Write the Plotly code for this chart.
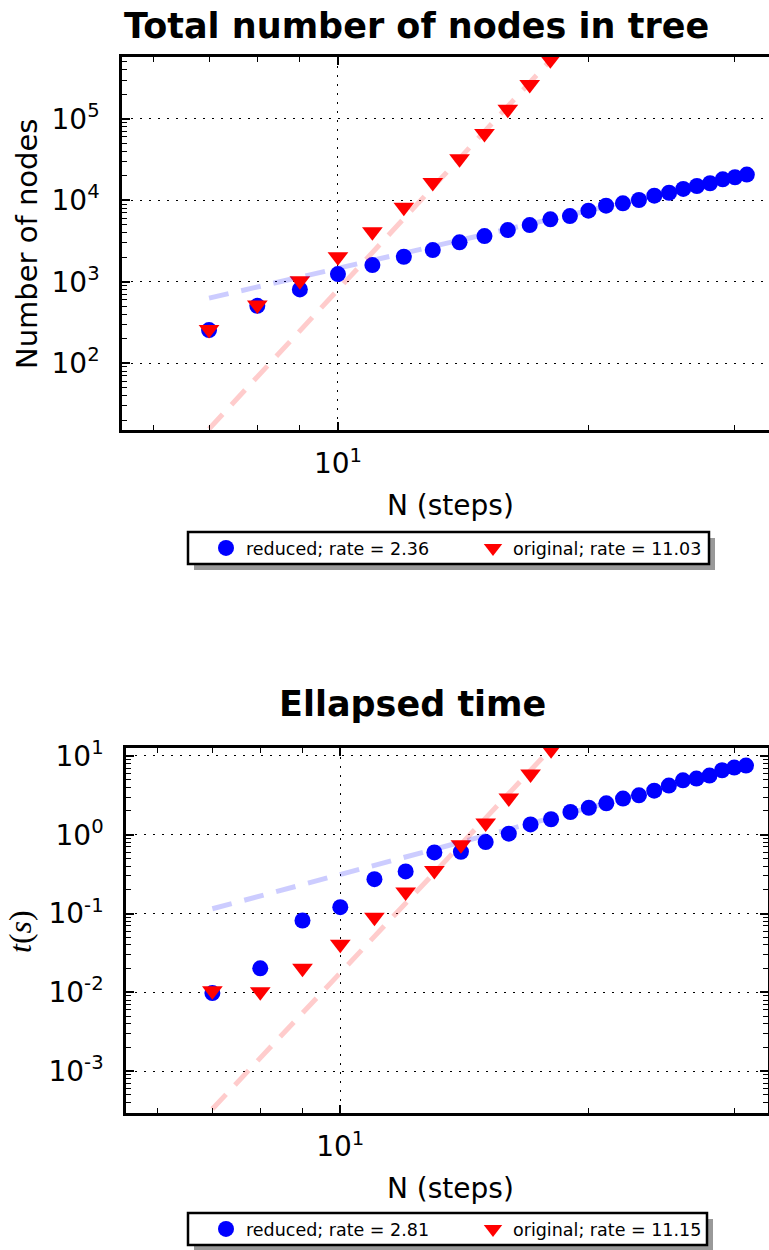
import plotly.graph_objects as go

# ---------------- data ----------------
N_reduced = [7, 8, 9, 10, 11, 12, 13, 14, 15, 16, 17, 18, 19, 20, 21, 22, 23, 24, 25, 26, 27, 28, 29, 30, 31]
N_original = [7, 8, 9, 10, 11, 12, 13, 14, 15, 16, 17, 18]

nodes_reduced = [255, 507, 806, 1243, 1603, 2028, 2450, 3050, 3640, 4310, 4970, 5840, 6410,
                 7460, 8600, 9180, 10100, 11400, 12400, 13800, 15000, 16200, 18100, 19200, 20700]
nodes_original = [260, 520, 1030, 2030, 4120, 8200, 16500, 32500, 66000, 131000, 264000, 531000]

time_reduced = [0.0098, 0.0202, 0.0817, 0.1205, 0.273, 0.342, 0.596, 0.608, 0.807, 1.03, 1.35,
                1.57, 1.94, 2.20, 2.50, 2.87, 3.16, 3.62, 4.20, 4.90, 5.15, 5.62, 6.57, 7.10, 7.53]
time_original = [0.0105, 0.0102, 0.0202, 0.0408, 0.0895, 0.187, 0.352, 0.746, 1.41, 2.93, 5.90, 12.0]

# fitted power-law lines (end points)
fit_nodes_reduced_N = [7, 31]
fit_nodes_reduced_y = [630, 21100]
fit_nodes_original_N = [7, 19]
fit_nodes_original_y = [15.6, 951000]
fit_time_reduced_N = [7, 31]
fit_time_reduced_y = [0.115, 7.5]
fit_time_original_N = [7, 19]
fit_time_original_y = [0.000332, 22.7]

rate_nodes_reduced = "2.36"
rate_nodes_original = "11.03"
rate_time_reduced = "2.81"
rate_time_original = "11.15"

x_tick_vals = [10]
x_tick_text = ["10<sup>1</sup>"]
x_minor_vals = [6, 7, 8, 9, 20, 30]
nodes_tick_vals = [1e2, 1e3, 1e4, 1e5]
nodes_tick_text = ["10<sup>2</sup>", "10<sup>3</sup>", "10<sup>4</sup>", "10<sup>5</sup>"]
time_tick_vals = [1e-3, 1e-2, 1e-1, 1e0, 1e1]
time_tick_text = ["10<sup>-3</sup>", "10<sup>-2</sup>", "10<sup>-1</sup>", "10<sup>0</sup>", "10<sup>1</sup>"]

# ---------------- figure ----------------
W, H = 769, 1250
FONT = "DejaVu Sans"
BLUE = "#0000ff"
RED = "#ff0000"
BLUE_FIT = "rgba(0,0,255,0.2)"
RED_FIT = "rgba(255,0,0,0.2)"


def px(x):
    return x / W


def py(y):
    return 1 - y / H


fig = go.Figure()


def add_panel(xa, ya, legend, Nr, yr, No, yo, fr, fo, rr, ro):
    fig.add_trace(go.Scatter(x=Nr, y=yr, mode="markers", xaxis=xa, yaxis=ya, legend=legend,
                             name=f"reduced; rate = {rr}",
                             marker=dict(symbol="circle", size=16, color=BLUE)))
    fig.add_trace(go.Scatter(x=No, y=yo, mode="markers", xaxis=xa, yaxis=ya, legend=legend,
                             name=f"original; rate = {ro}",
                             marker=dict(symbol="triangle-down", size=18, color=RED)))
    fig.add_trace(go.Scatter(x=fr[0], y=fr[1], mode="lines", xaxis=xa, yaxis=ya, showlegend=False,
                             line=dict(color=BLUE_FIT, width=5, dash="20px,13px"), hoverinfo="skip"))
    fig.add_trace(go.Scatter(x=fo[0], y=fo[1], mode="lines", xaxis=xa, yaxis=ya, showlegend=False,
                             line=dict(color=RED_FIT, width=5, dash="20px,13px"), hoverinfo="skip"))


add_panel("x", "y", "legend", N_reduced, nodes_reduced, N_original, nodes_original,
          (fit_nodes_reduced_N, fit_nodes_reduced_y), (fit_nodes_original_N, fit_nodes_original_y),
          rate_nodes_reduced, rate_nodes_original)
add_panel("x2", "y2", "legend2", N_reduced, time_reduced, N_original, time_original,
          (fit_time_reduced_N, fit_time_reduced_y), (fit_time_original_N, fit_time_original_y),
          rate_time_reduced, rate_time_original)

tickfont = dict(family=FONT, size=28, color="black")
common_axis = dict(
    type="log", showline=True, linecolor="black", linewidth=2.5, automargin=False,
    ticks="inside", ticklen=8, tickwidth=1.5, tickcolor="black",
    showgrid=True, gridcolor="black", gridwidth=1.3, griddash="2px,7px",
    zeroline=False, tickfont=tickfont,
)

xrange = [0.7405, 1.518]

legend_common = dict(orientation="h", xanchor="left", yanchor="middle",
                     bgcolor="rgba(0,0,0,0)", borderwidth=0,
                     font=dict(family=FONT, size=17.5, color="black"), itemclick=False,
                     entrywidth=222, entrywidthmode="pixels", itemwidth=30)

fig.update_layout(
    template="none",
    width=W, height=H,
    margin=dict(l=0, r=0, t=0, b=0, pad=0, autoexpand=False),
    paper_bgcolor="white", plot_bgcolor="white",
    font=dict(family=FONT, color="black"),
    xaxis=dict(common_axis, domain=[px(122), 1.0], range=xrange, anchor="y",
               tickmode="array", tickvals=x_tick_vals, ticktext=x_tick_text, mirror="allticks",
               ticklabelstandoff=7,
               minor=dict(tickmode="array", tickvals=x_minor_vals, ticks="inside", ticklen=5,
                          tickwidth=1.2, tickcolor="black", showgrid=False)),
    yaxis=dict(common_axis, domain=[py(430), py(57)], range=[1.18, 5.76], anchor="x",
               tickmode="array", tickvals=nodes_tick_vals, ticktext=nodes_tick_text, mirror=False,
               ticklabelstandoff=14,
               minor=dict(tickmode="array",
                          tickvals=[m * 10 ** e for e in range(1, 6) for m in range(2, 10)],
                          ticks="inside", ticklen=5, tickwidth=1.2, tickcolor="black", showgrid=False)),
    xaxis2=dict(common_axis, domain=[px(126), px(768)], range=xrange, anchor="y2",
                tickmode="array", tickvals=x_tick_vals, ticktext=x_tick_text, mirror="allticks",
                ticklabelstandoff=7,
                minor=dict(tickmode="array", tickvals=x_minor_vals, ticks="inside", ticklen=5,
                           tickwidth=1.2, tickcolor="black", showgrid=False)),
    yaxis2=dict(common_axis, domain=[py(1113), py(748)], range=[-3.53, 1.10], anchor="x2",
                tickmode="array", tickvals=time_tick_vals, ticktext=time_tick_text, mirror="allticks",
                ticklabelstandoff=14,
                minor=dict(tickmode="array",
                           tickvals=[m * 10 ** e for e in range(-4, 2) for m in range(2, 10)],
                           ticks="inside", ticklen=5, tickwidth=1.2, tickcolor="black", showgrid=False)),
    legend=dict(legend_common, x=px(206), y=py(548)),
    legend2=dict(legend_common, x=px(206), y=py(1229)),
    showlegend=True,
    hovermode=False,
)

annotations = [
    dict(text="<b>Total number of nodes in tree</b>", x=px(416), y=py(26),
         font=dict(family=FONT, size=35, color="black")),
    dict(text="<b>Ellapsed time</b>", x=px(412), y=py(704),
         font=dict(family=FONT, size=35, color="black")),
    dict(text="N (steps)", x=px(450), y=py(505), font=dict(family=FONT, size=28, color="black")),
    dict(text="N (steps)", x=px(450), y=py(1188), font=dict(family=FONT, size=28, color="black")),
    dict(text="Number of nodes", x=px(27), y=py(244), textangle=-90,
         font=dict(family=FONT, size=29, color="black")),
    dict(text="<i>t</i>(<i>s</i>)", x=px(20), y=py(932), textangle=-90,
         font=dict(family="Liberation Serif", size=32, color="black")),
]
for a in annotations:
    a.update(xref="paper", yref="paper", xanchor="center", yanchor="middle", showarrow=False)
fig.update_layout(annotations=annotations)

# legend frames with drop shadows (x0, y0, x1, y1 in pixels)
legend_boxes = [(188, 532, 709, 564), (188, 1213, 707, 1245)]
shapes = []
for (a, b, c, d) in legend_boxes:
    shapes.append(dict(type="rect", xref="paper", yref="paper",
                       x0=px(a + 6), x1=px(c + 6), y0=py(d + 6), y1=py(b + 6),
                       fillcolor="#999999", line=dict(width=0), layer="above"))
    shapes.append(dict(type="rect", xref="paper", yref="paper",
                       x0=px(a), x1=px(c), y0=py(d), y1=py(b),
                       fillcolor="white", line=dict(color="black", width=2.5), layer="above"))
fig.update_layout(shapes=shapes)

fig.write_html("out.html", config={"displayModeBar": False},
               post_script="document.body.style.margin='0';document.body.style.overflow='hidden';")
